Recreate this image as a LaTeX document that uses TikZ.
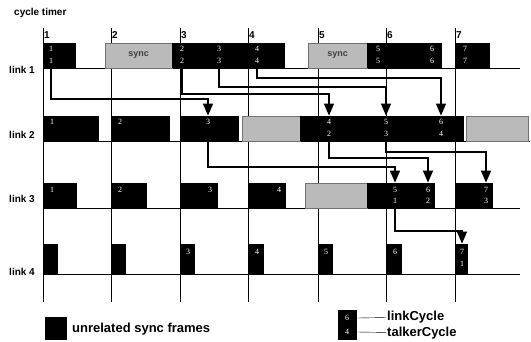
\documentclass[tikz,border=0pt]{standalone}
\usepackage{fontspec}
\setmainfont{Liberation Serif}
\setsansfont{Liberation Sans}
\usetikzlibrary{arrows.meta}

\begin{document}
\begin{tikzpicture}[
  x=1pt, y=-1pt,
  blk/.style={fill=black, inner sep=0pt, anchor=south west, minimum height=25pt},
  syncbox/.style={fill=black!27, draw=black!55, inner sep=0pt, anchor=south west, minimum height=25pt, font=\sffamily\bfseries\fontsize{9}{9}\selectfont, text=black!75},
  num/.style={text=white, inner sep=0.5pt, font=\fontsize{8}{8}\selectfont},
  lbl/.style={font=\sffamily\bfseries\fontsize{10}{10}\selectfont, anchor=east, inner sep=0pt},
  tmr/.style={font=\sffamily\bfseries\fontsize{10}{10}\selectfont, anchor=west, inner sep=1pt},
  keytext/.style={font=\sffamily\bfseries\fontsize{13}{13}\selectfont, anchor=west, inner sep=1pt},
  hop/.style={line width=1.4pt, -{Triangle[width=10pt,length=12pt]}},
  timer/.style={line width=0.8pt},
  linkline/.style={line width=1pt},
]
\useasboundingbox (0,0) rectangle (531,341);

% cycle timer
\node[anchor=west, inner sep=0pt, font=\sffamily\bfseries\fontsize{10}{10}\selectfont] (ct) at (14,13) {cycle timer};
\foreach \n/\x in {1/43, 2/111, 3/180, 4/248, 5/318, 6/386, 7/455} {
  \draw[timer] (\x,28) -- (\x,302);
  \node[tmr] (c\n) at (\x,35) {\n};
}

% links
\draw[linkline] (43,68) -- (520,68);
\draw[linkline] (43,141) -- (530,141);
\draw[linkline] (43,208) -- (520,208);
\draw[linkline] (43,274) -- (520,274);
\node[lbl] (k1) at (35,70) {link 1};
\node[lbl] (k2) at (35,135) {link 2};
\node[lbl] (k3) at (35,199) {link 3};
\node[lbl] (k4) at (35,272) {link 4};

% link 1
\node[blk, minimum width=33pt] (l1a) at (43,68) {};
\node[syncbox, minimum width=67pt] (l1s) at (105,68) {sync};
\node[blk, minimum width=38pt] (l1b) at (172,68) {};
\node[blk, minimum width=38pt] (l1c) at (210,68) {};
\node[blk, minimum width=37pt] (l1d) at (248,68) {};
\node[syncbox, minimum width=59pt] (l1t) at (308,68) {sync};
\node[blk, minimum width=38pt] (l1e) at (367,68) {};
\node[blk, minimum width=37pt] (l1f) at (405,68) {};
\node[blk, minimum width=35pt] (l1g) at (455,68) {};
\foreach \n/\x in {1/51, 2/182, 3/219, 4/257, 5/378, 6/432, 7/465} {
  \node[num] (p1\n) at (\x,49) {\n};
  \node[num] (q1\n) at (\x,61) {\n};
}

% link 2
\node[blk, minimum width=56pt] (l2a) at (43,141) {};
\node[blk, minimum width=59pt] (l2b) at (111,141) {};
\node[blk, minimum width=59pt] (l2c) at (180,141) {};
\node[syncbox, minimum width=58pt] (l2s) at (242,141) {};
\node[blk, minimum width=164pt] (l2d) at (300,141) {};
\node[syncbox, minimum width=62pt] (l2t) at (466,141) {};
\foreach \n/\x in {1/52, 2/120, 3/208, 4/329, 5/386, 6/441} {
  \node[num] (p2\n) at (\x,122) {\n};
}
\node[num] (q24) at (329,134) {2};
\node[num] (q25) at (386,134) {3};
\node[num] (q26) at (441,134) {4};

% link 3
\node[blk, minimum width=34pt] (l3a) at (43,208) {};
\node[blk, minimum width=36pt] (l3b) at (111,208) {};
\node[blk, minimum width=38pt] (l3c) at (180,208) {};
\node[blk, minimum width=38pt] (l3d) at (248,208) {};
\node[syncbox, minimum width=62pt] (l3s) at (305,208) {};
\node[blk, minimum width=68pt] (l3e) at (367,208) {};
\node[blk, minimum width=38pt] (l3f) at (455,208) {};
\foreach \n/\x in {1/52, 2/120, 3/210, 4/279, 5/395, 6/428, 7/486} {
  \node[num] (p3\n) at (\x,190) {\n};
}
\node[num] (q35) at (395,201) {1};
\node[num] (q36) at (428,201) {2};
\node[num] (q37) at (486,201) {3};

% link 4
\foreach \n/\x in {1/43, 2/111, 3/180, 4/249, 5/318, 6/387} {
  \node[blk, minimum width=15pt, minimum height=30pt] (l4\n) at (\x,274) {};
}
\node[blk, minimum width=13pt, minimum height=30pt] (l47) at (455,274) {};
\foreach \n/\x in {3/188, 4/257, 5/326, 6/395, 7/462} {
  \node[num] (p4\n) at (\x,252) {\n};
}
\node[num] (q47) at (462,264) {1};

% forwarding
\draw[hop] (q11) |- (p23 |- 0,99) -- (p23 |- l2c.north);
\draw[hop] (q12) |- (p24 |- 0,94) -- (p24 |- l2d.north);
\draw[hop] (q13) |- (p25 |- 0,87) -- (p25 |- l2d.north);
\draw[hop] (q14) |- (p26 |- 0,78) -- (p26 |- l2d.north);
\draw[hop] (p23 |- l2c.south) |- (p35 |- 0,167) -- (p35 |- l3e.north);
\draw[hop] (q24) |- (p36 |- 0,158) -- (p36 |- l3e.north);
\draw[hop] (q25) |- (p37 |- 0,152) -- (p37 |- l3f.north);
\draw[hop] (q35) |- (p47 |- 0,231) -- (p47 |- l47.north);

% legend
\node[blk, minimum width=22pt, minimum height=23pt] (key1) at (45,340) {};
\node[keytext] (key1t) at (71,329) {unrelated sync frames};
\node[blk, minimum width=19pt, minimum height=30pt] (key2) at (338,340) {};
\node[num] (kp) at (347,318) {6};
\node[num] (kq) at (347,332) {4};
\node[keytext] (kl) at (386,317) {linkCycle};
\node[keytext] (kt) at (386,333) {talkerCycle};
\draw[thin] (key2.east |- kp) -- (kl);
\draw[thin] (key2.east |- kq) -- (kt);
\end{tikzpicture}
\end{document}
